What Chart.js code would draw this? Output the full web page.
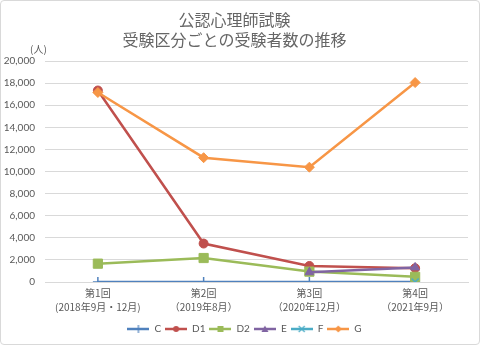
<!DOCTYPE html>
<html>
<head>
<meta charset="utf-8">
<script src="https://cdn.jsdelivr.net/npm/chart.js@4"></script>
<style>
html,body{margin:0;padding:0;background:#fff;}
#wrap{position:absolute;left:0;top:0;width:480px;height:345px;box-sizing:border-box;border:1px solid #d9d9d9;border-radius:4px;overflow:hidden;}
canvas{display:block;}
</style>
</head>
<body>
<div id="wrap"><canvas id="c" width="478" height="343"></canvas></div>
<script>
const titleLines = ['公認心理師試験', '受験区分ごとの受験者数の推移'];
const unitLabel = '(人)';
const categories = [
  ['第1回', '(2018年9月・12月)'],
  ['第2回', '（2019年8月）'],
  ['第3回', '（2020年12月）'],
  ['第4回', '（2021年9月）']
];
const seriesNames = ['C', 'D1', 'D2', 'E', 'F', 'G'];
const valuesC  = [0, 0, 0, 0];
const valuesD1 = [17330, 3480, 1450, 1250];
const valuesD2 = [1660, 2170, 940, 470];
const valuesE  = [null, null, 880, 1320];
const valuesF  = [null, null, null, 0];
const valuesG  = [17150, 11250, 10390, 18050];
const yTicks = [0, 2000, 4000, 6000, 8000, 10000, 12000, 14000, 16000, 18000, 20000];

const colors = ['#4F81BD', '#C0504D', '#9BBB59', '#8064A2', '#4BACC6', '#F79646'];
const styles = ['cross', 'circle', 'rect', 'triangle', 'crossRot', 'rectRot'];
const radii = [5, 4.5, 6.5, 5, 5, 5];
const allValues = [valuesC, valuesD1, valuesD2, valuesE, valuesF, valuesG];

function legendIcon(i) {
  const cv = document.createElement('canvas');
  cv.width = 22; cv.height = 10;
  const g = cv.getContext('2d');
  g.strokeStyle = colors[i]; g.lineWidth = 2.5;
  g.beginPath(); g.moveTo(0, 5); g.lineTo(22, 5); g.stroke();
  g.fillStyle = colors[i]; g.lineWidth = 1.2;
  const s = styles[i], cx = 11, cy = 5;
  g.beginPath();
  if (s === 'circle') { g.arc(cx, cy, 3, 0, Math.PI * 2); g.fill(); }
  else if (s === 'rect') { g.fillRect(cx - 3, cy - 3, 6, 6); }
  else if (s === 'triangle') { g.moveTo(cx, cy - 3.5); g.lineTo(cx + 3.5, cy + 3); g.lineTo(cx - 3.5, cy + 3); g.closePath(); g.fill(); }
  else if (s === 'rectRot') { g.moveTo(cx, cy - 3.5); g.lineTo(cx + 3.5, cy); g.lineTo(cx, cy + 3.5); g.lineTo(cx - 3.5, cy); g.closePath(); g.fill(); }
  else if (s === 'cross') { g.moveTo(cx, cy - 4); g.lineTo(cx, cy + 4); g.stroke(); }
  else if (s === 'crossRot') { g.moveTo(cx - 3, cy - 3); g.lineTo(cx + 3, cy + 3); g.moveTo(cx + 3, cy - 3); g.lineTo(cx - 3, cy + 3); g.stroke(); }
  return cv;
}
const icons = seriesNames.map((_, i) => legendIcon(i));

const datasets = seriesNames.map((name, i) => ({
  label: name,
  data: allValues[i],
  borderColor: colors[i],
  backgroundColor: colors[i],
  borderWidth: 2.5,
  pointStyle: styles[i],
  pointRadius: radii[i],
  pointBorderWidth: (styles[i] === 'cross' || styles[i] === 'crossRot') ? 1.5 : 1,
  pointBackgroundColor: colors[i],
  pointBorderColor: colors[i],
  tension: 0,
  spanGaps: false,
  order: seriesNames.length - i
}));

const unitPlugin = {
  id: 'unit',
  afterLayout(chart) {
    if (chart.legend) { chart.legend.left += 10; chart.legend.right += 10; }
  },
  afterDraw(chart) {
    const ctx = chart.ctx;
    ctx.save();
    ctx.fillStyle = '#595959';
    ctx.font = '10px "Noto Sans CJK JP"';
    ctx.textAlign = 'left';
    ctx.textBaseline = 'middle';
    ctx.fillText(unitLabel, 29, 48);
    ctx.restore();
  }
};

Chart.defaults.font.family = 'Lato, "Noto Sans CJK JP", sans-serif';
Chart.defaults.color = '#595959';

new Chart(document.getElementById('c'), {
  type: 'line',
  data: { labels: categories, datasets },
  options: {
    responsive: false,
    animation: false,
    layout: { padding: { left: 0, right: 11, top: 0, bottom: 0 } },
    plugins: {
      title: {
        display: true,
        text: titleLines,
        color: '#666666',
        font: { family: '"Noto Sans CJK JP"', size: 16, weight: 'normal', lineHeight: 1.25 },
        padding: { top: 9, bottom: 11 }
      },
      legend: {
        position: 'bottom',
        labels: {
          usePointStyle: true,
          pointStyleWidth: 22,
          boxHeight: 10,
          padding: 4,
          color: '#595959',
          font: { size: 10 },
          sort: (a, b) => a.datasetIndex - b.datasetIndex,
          generateLabels(chart) {
            return chart.data.datasets.map((d, i) => ({
              text: d.label, datasetIndex: i, pointStyle: icons[i],
              fillStyle: colors[i], strokeStyle: colors[i], lineWidth: 0, hidden: false, fontColor: '#595959'
            }));
          }
        }
      },
      tooltip: { enabled: false }
    },
    scales: {
      x: {
        offset: true,
        grid: { display: false, drawTicks: false },
        border: { display: true, color: '#d9d9d9' },
        afterFit(scale) { scale.height = 38; },
        ticks: { color: '#595959', font: { size: 10, family: '"Noto Sans CJK JP"', lineHeight: 1.4 }, padding: 4, maxRotation: 0, autoSkip: false }
      },
      y: {
        min: 0, max: 20000,
        afterBuildTicks(scale) { scale.ticks = yTicks.map(v => ({ value: v })); },
        afterFit(scale) { scale.width = 44; },
        grid: { color: '#d9d9d9', drawTicks: false },
        border: { display: false },
        ticks: { color: '#595959', font: { size: 10 }, padding: 10,
          callback: v => v.toLocaleString('en-US') }
      }
    }
  },
  plugins: [unitPlugin]
});
</script>
</body>
</html>
